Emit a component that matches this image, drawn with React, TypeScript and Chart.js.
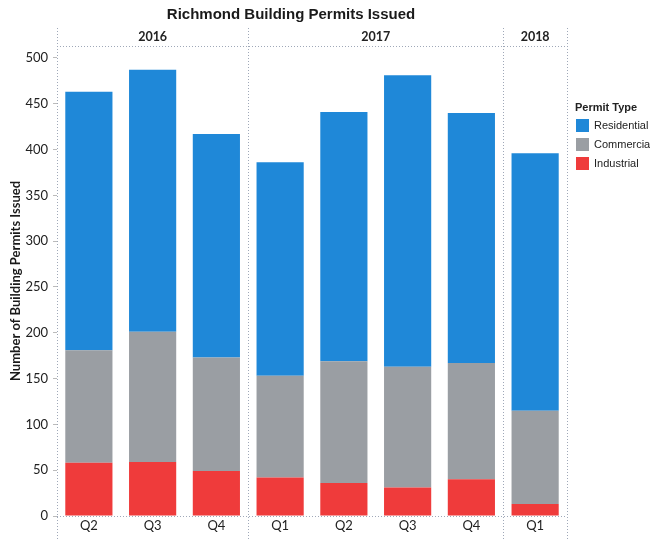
import React, { useEffect, useRef } from "react";
import { Chart, registerables } from "chart.js";

Chart.register(...registerables);

const chartTitle = "Richmond Building Permits Issued";
const yAxisTitle = "Number of Building Permits Issued";
const legendTitle = "Permit Type";
const quarters = ["Q2", "Q3", "Q4", "Q1", "Q2", "Q3", "Q4", "Q1"];
const years = ["2016", "2017", "2018"];
const yearGroupSizes = [3, 4, 1];
const industrial = [58, 59, 49, 42, 36, 31, 40, 13];
const commercial = [123, 142, 124, 111, 133, 132, 127, 102];
const residential = [282, 286, 244, 233, 272, 318, 273, 281];
const yTicks = [0, 50, 100, 150, 200, 250, 300, 350, 400, 450, 500];
const legendNames = ["Residential", "Commercial", "Industrial"];
const colors = { Residential: "#1f88d8", Commercial: "#9a9ea3", Industrial: "#ef3b3b" };

const dotted = "#9fa8b8";

const decorPlugin = {
  id: "decor",
  afterDraw(chart: any) {
    const { ctx, chartArea: a, scales } = chart;
    const x = scales.x;
    ctx.save();
    // title
    ctx.fillStyle = "#1a1a1a";
    ctx.font = "bold 15px 'Liberation Sans', Arial, sans-serif";
    ctx.textAlign = "center";
    ctx.textBaseline = "middle";
    ctx.fillText(chartTitle, 291, 15);

    // group boundaries
    const bounds: number[] = [a.left];
    let idx = 0;
    yearGroupSizes.forEach((n, gi) => {
      idx += n;
      if (gi === yearGroupSizes.length - 1) bounds.push(a.right);
      else bounds.push((x.getPixelForValue(idx - 1) + x.getPixelForValue(idx)) / 2);
    });

    ctx.strokeStyle = dotted;
    ctx.lineWidth = 1;
    ctx.setLineDash([1, 2]);
    bounds.forEach((bx) => {
      const px = Math.round(bx) + 0.5;
      ctx.beginPath();
      ctx.moveTo(px, 28);
      ctx.lineTo(px, 540);
      ctx.stroke();
    });
    [a.top, a.bottom].forEach((by) => {
      const py = Math.round(by) + 0.5;
      ctx.beginPath();
      ctx.moveTo(a.left, py);
      ctx.lineTo(a.right, py);
      ctx.stroke();
    });
    ctx.setLineDash([]);

    // year headers
    ctx.fillStyle = "#222";
    ctx.font = "bold 12.5px Lato, sans-serif";
    years.forEach((yr, i) => {
      ctx.fillText(yr, (bounds[i] + bounds[i + 1]) / 2, 37);
    });

    // legend
    ctx.textAlign = "left";
    ctx.font = "bold 11px 'Liberation Sans', Arial, sans-serif";
    ctx.fillStyle = "#222";
    ctx.fillText(legendTitle, 575, 108);
    ctx.font = "11px 'Liberation Sans', Arial, sans-serif";
    legendNames.forEach((name, i) => {
      const ds = chart.data.datasets.find((d: any) => d.label === name);
      const yTop = 119 + i * 19;
      ctx.fillStyle = ds ? ds.backgroundColor : "#999";
      ctx.fillRect(576, yTop, 13, 13);
      ctx.fillStyle = "#222";
      ctx.fillText(name, 594, yTop + 7);
    });
    ctx.restore();
  },
};

export default function App() {
  const ref = useRef<HTMLCanvasElement>(null);
  useEffect(() => {
    document.body.style.margin = "0";
    const chart = new Chart(ref.current as HTMLCanvasElement, {
      type: "bar",
      data: {
        labels: quarters,
        datasets: [
          { label: "Industrial", data: industrial, backgroundColor: colors.Industrial },
          { label: "Commercial", data: commercial, backgroundColor: colors.Commercial },
          { label: "Residential", data: residential, backgroundColor: colors.Residential },
        ],
      },
      options: {
        responsive: false,
        animation: false,
        layout: { padding: { top: 46, right: 83, left: 0, bottom: 0 } },
        datasets: { bar: { barPercentage: 0.74, categoryPercentage: 1 } },
        plugins: { legend: { display: false }, title: { display: false }, tooltip: { enabled: false } },
        scales: {
          x: {
            stacked: true,
            grid: { display: false, drawTicks: false },
            border: { display: false },
            ticks: { color: "#222", font: { size: 13, family: "Lato, sans-serif" }, padding: 2 },
            afterFit: (s: any) => {
              s.height = 24;
            },
          },
          y: {
            stacked: true,
            min: 0,
            max: 513,
            afterBuildTicks: (s: any) => {
              s.ticks = yTicks.map((v) => ({ value: v }));
            },
            grid: { display: true, drawOnChartArea: false, drawTicks: true, tickLength: 4, color: "#bbb" },
            border: { display: false },
            ticks: { color: "#222", font: { size: 13, family: "Lato, sans-serif" }, padding: 5 },
            title: {
              display: true,
              text: yAxisTitle,
              color: "#1a1a1a",
              font: { size: 13, weight: "bold", family: "Lato, sans-serif" },
              padding: { top: 8, bottom: 0 },
            },
            afterFit: (s: any) => {
              s.width = 57;
            },
          },
        },
      },
      plugins: [decorPlugin],
    });
    return () => chart.destroy();
  }, []);
  return (
    <div style={{ width: 650, height: 540, background: "#fff", overflow: "hidden" }}>
      <canvas ref={ref} width={650} height={540} style={{ display: "block" }} />
    </div>
  );
}
